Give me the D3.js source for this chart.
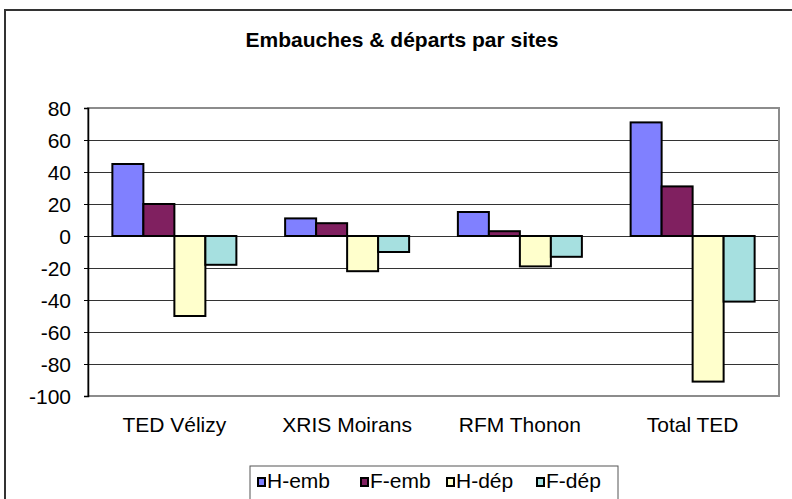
<!DOCTYPE html>
<html>
<head>
<meta charset="utf-8">
<script src="https://cdn.jsdelivr.net/npm/d3@7"></script>
<style>
  body { margin: 0; background: #fff; }
  svg text { font-family: "Liberation Sans", Arial, sans-serif; }
</style>
</head>
<body>
<div id="chart"></div>
<script>
const sites = ["TED Vélizy", "XRIS Moirans", "RFM Thonon", "Total TED"];
const seriesNames = ["H-emb", "F-emb", "H-dép", "F-dép"];
const hEmb = [45, 11, 15, 71];
const fEmb = [20, 8, 3, 31];
const hDep = [-50, -22, -19, -91];
const fDep = [-18, -10, -13, -41];
const yTicks = [80, 60, 40, 20, 0, -20, -40, -60, -80, -100];
const colors = ["#8080ff", "#802060", "#ffffcc", "#a6e0e0"];

const values = [hEmb, fEmb, hDep, fDep];

const width = 792, height = 499;
const fontSize = 21;
const svg = d3.select("#chart").append("svg").attr("width", width).attr("height", height);

// outer chart frame
svg.append("rect")
  .attr("x", 5).attr("y", 10)
  .attr("width", 900).attr("height", 600)
  .attr("fill", "#fff").attr("stroke", "#333").attr("stroke-width", 2);

svg.append("text")
  .attr("x", 402).attr("y", 47)
  .attr("text-anchor", "middle")
  .attr("font-size", fontSize).attr("font-weight", "bold")
  .text("Embauches & départs par sites");

const plot = { left: 88, right: 779, top: 108, bottom: 396 };

const x = d3.scaleBand().domain(sites).range([plot.left, plot.right]);
const y = d3.scaleLinear().domain([-100, 80]).range([plot.bottom, plot.top]);

const barW = 31;
const xs = d3.scaleBand().domain(seriesNames).range([0, barW * 4]);

// gridlines
svg.append("g")
  .selectAll("line")
  .data(yTicks.filter(d => d !== -100 && d !== 80))
  .join("line")
  .attr("x1", plot.left).attr("x2", plot.right)
  .attr("y1", d => Math.round(y(d)) + 0.5).attr("y2", d => Math.round(y(d)) + 0.5)
  .attr("stroke", "#333").attr("stroke-width", 1);

// plot border (gray)
svg.append("rect")
  .attr("x", plot.left).attr("y", plot.top)
  .attr("width", plot.right - plot.left).attr("height", plot.bottom - plot.top)
  .attr("fill", "none").attr("stroke", "#8c8c8c").attr("stroke-width", 2);

// bars
const groups = svg.append("g")
  .selectAll("g")
  .data(seriesNames)
  .join("g")
  .attr("fill", (d, i) => colors[i]);

groups.selectAll("rect")
  .data((s, i) => sites.map((site, j) => ({ site, s, v: values[i][j] })))
  .join("rect")
  .attr("x", d => x(d.site) + (x.bandwidth() - barW * 4) / 2 + xs(d.s))
  .attr("y", d => y(Math.max(0, d.v)))
  .attr("width", xs.bandwidth())
  .attr("height", d => Math.abs(y(d.v) - y(0)))
  .attr("stroke", "#000").attr("stroke-width", 2);

// y axis
const yAxis = d3.axisLeft(y).tickValues(yTicks).tickSize(4).tickFormat(d => String(d));
const ya = svg.append("g").attr("transform", `translate(${plot.left},0)`).call(yAxis);
ya.select(".domain").attr("stroke", "#000").attr("stroke-width", 1.5);
ya.selectAll(".tick line").attr("stroke", "#000");
ya.selectAll(".tick text")
  .attr("x", -17).attr("dy", "0.36em").attr("font-size", fontSize).attr("fill", "#000")
  .attr("font-family", "'Liberation Sans', Arial, sans-serif");

// x labels
svg.append("g")
  .selectAll("text")
  .data(sites)
  .join("text")
  .attr("x", d => x(d) + x.bandwidth() / 2)
  .attr("y", 432)
  .attr("text-anchor", "middle")
  .attr("font-size", fontSize)
  .text(d => d);

// legend
const legend = svg.append("g");
legend.append("rect")
  .attr("x", 250).attr("y", 466)
  .attr("width", 368).attr("height", 40)
  .attr("fill", "#fff").attr("stroke", "#555").attr("stroke-width", 1);

const legendX = [257, 360, 446, 536];
const item = legend.selectAll("g.item")
  .data(seriesNames)
  .join("g")
  .attr("class", "item")
  .attr("transform", (d, i) => `translate(${legendX[i]},0)`);

item.append("rect")
  .attr("x", 1).attr("y", 478)
  .attr("width", 7).attr("height", 8)
  .attr("fill", (d, i) => colors[i])
  .attr("stroke", "#000").attr("stroke-width", 2);

item.append("text")
  .attr("x", 10).attr("y", 488)
  .attr("font-size", fontSize)
  .text(d => d);
</script>
</body>
</html>
